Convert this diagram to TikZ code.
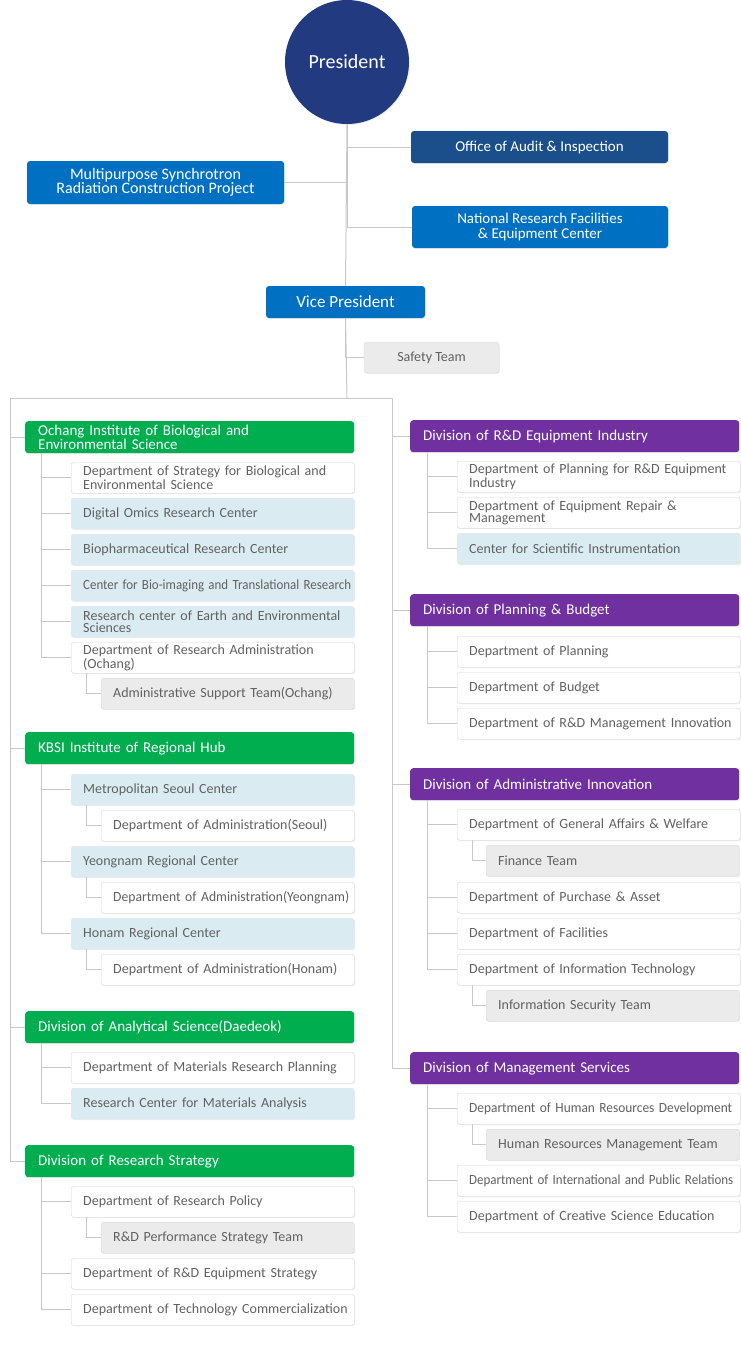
\documentclass[tikz,border=0pt]{standalone}
\usepackage{fontspec}
\setmainfont{Carlito}
\usetikzlibrary{positioning,shadows}

\definecolor{navy}{HTML}{213A80}
\definecolor{auditblue}{HTML}{1A4F8B}
\definecolor{kbblue}{HTML}{0071C2}
\definecolor{kbgreen}{HTML}{00AE50}
\definecolor{kbpurple}{HTML}{7030A0}
\definecolor{cellblue}{HTML}{DAECF2}
\definecolor{cellgray}{HTML}{EBEBEB}
\definecolor{boxline}{HTML}{D6D6D6}
\definecolor{connline}{HTML}{C8C8C8}
\definecolor{txtgray}{HTML}{616161}

\newcommand\kbitem{\fontsize{14}{12}\selectfont}
\newcommand\kbhead{\fontsize{15}{12}\selectfont}
\newcommand\kbtop{\fontsize{15}{14.5}\selectfont}
% squeeze a long label to the width it has in the chart
\newcommand\kbfit[2]{\resizebox{#1}{\height}{\mbox{#2}}}

\tikzset{
  conn/.style={draw=connline, line width=1pt},
  soft/.style={drop shadow={shadow xshift=0.8pt, shadow yshift=-1pt, opacity=0.13}},
  top/.style={rounded corners=3, text=white, align=center, font=\kbtop, inner sep=0, soft},
  div/.style={anchor=north west, rounded corners=3, minimum height=32, inner xsep=0,
    inner ysep=0, text width=329, align=left, text=white, font=\kbhead, soft,
    execute at begin node={\leftskip=13pt\hyphenpenalty=10000}},
  box/.style={anchor=north west, rounded corners=2.5, draw=boxline, minimum height=31,
    inner xsep=0, inner ysep=0, align=left, text=txtgray, font=\kbitem, soft,
    execute at begin node={\leftskip=12pt\hyphenpenalty=10000}},
  dept/.style={box, fill=white},
  cent/.style={box, fill=cellblue, draw=cellblue!85!black!40},
  team/.style={box, fill=cellgray, draw=cellgray!92!black},
  lev2/.style={text width=283},
  lev3/.style={text width=253},
}

\begin{document}
\begin{tikzpicture}[x=1pt, y=-1pt]

  \fill[white] (0,0) rectangle (740,1355);
  \useasboundingbox (0,0) rectangle (740,1355);

  % top of the chart
  \node[circle, fill=navy, minimum size=124, inner sep=0, text=white, soft,
        font=\fontsize{20}{20}\selectfont] (pres) at (347,62) {President};
  \node[top, fill=auditblue, minimum width=257, minimum height=32] (audit) at (539.5,147) {Office of Audit \& Inspection};
  \node[top, fill=kbblue, minimum width=257, minimum height=43,
        font=\fontsize{16}{14.5}\selectfont] (msr) at (155.5,182.5) {Multipurpose Synchrotron\\Radiation Construction Project};
  \node[top, fill=kbblue, minimum width=256, minimum height=42] (nrf) at (540,227) {National Research Facilities\\\& Equipment Center};
  \node[top, fill=kbblue, minimum width=159, minimum height=32,
        font=\fontsize{17}{17}\selectfont] (vp) at (345.5,302) {Vice President};
  \node[top, fill=cellgray, draw=cellgray!92!black, text=txtgray, font=\kbitem,
        minimum width=135, minimum height=31] (safety) at (431.5,357.5) {Safety Team};

  \coordinate (split) at (347,398);
  \coordinate (ltop) at (10,398);
  \coordinate (rtop) at (392,398);

  % left column
  \node[div, fill=kbgreen] (och) at (25,421) {Ochang Institute of Biological and\\Environmental Science};
  \node[dept, lev2] (o1) at (71,462) {Department of Strategy for Biological and\\Environmental Science};
  \node[cent, lev2] (o2) at (71,498) {Digital Omics Research Center};
  \node[cent, lev2] (o3) at (71,534) {Biopharmaceutical Research Center};
  \node[cent, lev2] (o4) at (71,570) {\kbfit{268pt}{Center for Bio-imaging and Translational Research}};
  \node[cent, lev2] (o5) at (71,606) {Research center of Earth and Environmental\\Sciences};
  \node[dept, lev2] (o6) at (71,642) {Department of Research Administration\\(Ochang)};
  \node[team, lev3] (o6a) at (101,678) {Administrative Support Team(Ochang)};

  \node[div, fill=kbgreen] (hub) at (25,732) {KBSI Institute of Regional Hub};
  \node[cent, lev2] (h1) at (71,774) {Metropolitan Seoul Center};
  \node[dept, lev3] (h1a) at (101,810) {Department of Administration(Seoul)};
  \node[cent, lev2] (h2) at (71,846) {Yeongnam Regional Center};
  \node[dept, lev3] (h2a) at (101,882) {\kbfit{236pt}{Department of Administration(Yeongnam)}};
  \node[cent, lev2] (h3) at (71,918) {Honam Regional Center};
  \node[dept, lev3] (h3a) at (101,954) {Department of Administration(Honam)};

  \node[div, fill=kbgreen] (ana) at (25,1011) {Division of Analytical Science(Daedeok)};
  \node[dept, lev2] (a1) at (71,1052) {Department of Materials Research Planning};
  \node[cent, lev2] (a2) at (71,1088) {Research Center for Materials Analysis};

  \node[div, fill=kbgreen] (rst) at (25,1145) {Division of Research Strategy};
  \node[dept, lev2] (s1) at (71,1186) {Department of Research Policy};
  \node[team, lev3] (s1a) at (101,1222) {R\&D Performance Strategy Team};
  \node[dept, lev2] (s2) at (71,1258) {Department of R\&D Equipment Strategy};
  \node[dept, lev2] (s3) at (71,1294) {Department of Technology Commercialization};

  % right column
  \node[div, fill=kbpurple] (rdi) at (410,420) {Division of R\&D Equipment Industry};
  \node[dept, lev2] (e1) at (457,461) {Department of Planning for R\&D Equipment\\Industry};
  \node[dept, lev2] (e2) at (457,497) {Department of Equipment Repair \&\\Management};
  \node[cent, lev2] (e3) at (457,533) {Center for Scientific Instrumentation};

  \node[div, fill=kbpurple] (plb) at (410,594) {Division of Planning \& Budget};
  \node[dept, lev2] (p1) at (457,636) {Department of Planning};
  \node[dept, lev2] (p2) at (457,672) {Department of Budget};
  \node[dept, lev2] (p3) at (457,708) {Department of R\&D Management Innovation};

  \node[div, fill=kbpurple] (adm) at (410,768) {Division of Administrative Innovation};
  \node[dept, lev2] (d1) at (457,809) {Department of General Affairs \& Welfare};
  \node[team, lev3] (d1a) at (486,845) {Finance Team};
  \node[dept, lev2] (d2) at (457,882) {Department of Purchase \& Asset};
  \node[dept, lev2] (d3) at (457,918) {Department of Facilities};
  \node[dept, lev2] (d4) at (457,954) {Department of Information Technology};
  \node[team, lev3] (d4a) at (486,990) {Information Security Team};

  \node[div, fill=kbpurple] (mgs) at (410,1052) {Division of Management Services};
  \node[dept, lev2] (m1) at (457,1093) {\kbfit{263pt}{Department of Human Resources Development}};
  \node[team, lev3] (m1a) at (486,1129) {Human Resources Management Team};
  \node[dept, lev2] (m2) at (457,1165) {\kbfit{264pt}{Department of International and Public Relations}};
  \node[dept, lev2] (m3) at (457,1201) {Department of Creative Science Education};

  % connectors
  \path[conn] (pres.south) |- (audit.west);
  \path[conn] (pres.south) |- (msr.east);
  \path[conn] (pres.south) |- (nrf.west);
  \path[conn] (pres.south) -- (vp.north);
  \path[conn] (vp.south) |- (safety.west);
  \path[conn] (vp.south) -- (split);
  \path[conn] (ltop) -- (rtop);

  \foreach \d in {och,hub,ana,rst}
    \path[conn] (ltop) |- (\d.west);
  \foreach \d in {rdi,plb,adm,mgs}
    \path[conn] (rtop) |- (\d.west);

  \foreach \c in {o1,o2,o3,o4,o5,o6}
    \path[conn] ([xshift=16]och.south west) |- (\c.west);
  \foreach \c in {h1,h2,h3}
    \path[conn] ([xshift=16]hub.south west) |- (\c.west);
  \foreach \c in {a1,a2}
    \path[conn] ([xshift=16]ana.south west) |- (\c.west);
  \foreach \c in {s1,s2,s3}
    \path[conn] ([xshift=16]rst.south west) |- (\c.west);
  \foreach \c in {e1,e2,e3}
    \path[conn] ([xshift=17]rdi.south west) |- (\c.west);
  \foreach \c in {p1,p2,p3}
    \path[conn] ([xshift=17]plb.south west) |- (\c.west);
  \foreach \c in {d1,d2,d3,d4}
    \path[conn] ([xshift=17]adm.south west) |- (\c.west);
  \foreach \c in {m1,m2,m3}
    \path[conn] ([xshift=17]mgs.south west) |- (\c.west);

  \foreach \p/\c in {o6/o6a,h1/h1a,h2/h2a,h3/h3a,s1/s1a,d1/d1a,d4/d4a,m1/m1a}
    \path[conn] ([xshift=15]\p.south west) |- (\c.west);

\end{tikzpicture}
\end{document}
